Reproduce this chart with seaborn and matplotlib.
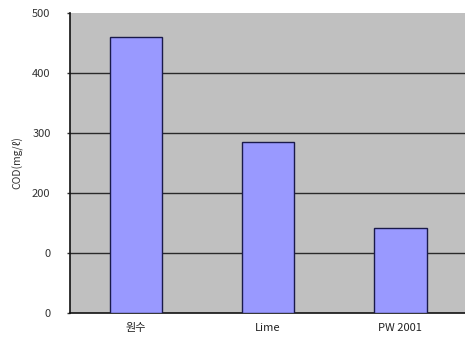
import matplotlib
matplotlib.use("Agg")
import matplotlib.pyplot as plt
import seaborn as sns
import pandas as pd

# COD by treatment
categories = ["원수", "Lime", "PW 2001"]
cod_values = [460, 285, 141]
y_ticks = [0, 100, 200, 300, 400, 500]
y_tick_labels = ["0", "0", "200", "300", "400", "500"]

df = pd.DataFrame({"treatment": categories, "cod": cod_values})

sns.set_theme(style="white")
plt.rcParams["font.family"] = ["Noto Sans CJK KR", "DejaVu Sans"]

fig = plt.figure(figsize=(4.65, 3.42), dpi=100)
ax = fig.add_axes([0.1505, 0.0848, 0.852, 0.877])
ax.set_facecolor("#C0C0C0")

sns.barplot(data=df, x="treatment", y="cod", ax=ax, color="#9999FF",
            saturation=1, width=0.4, edgecolor="#1a1a4a", linewidth=1.0,
            zorder=3)

ax.set_xlim(-0.5, 2.5)
ax.set_ylim(0, 500)
ax.set_yticks(y_ticks)
ax.set_yticklabels(y_tick_labels)
for y in y_ticks[1:-1]:
    ax.axhline(y, color="#2a2a2a", linewidth=1.0, zorder=1)

ax.set_xticks([0.5, 1.5], minor=True)
ax.tick_params(axis="x", which="minor", length=2, width=1, color="#333333",
               direction="in")
ax.tick_params(axis="x", which="major", length=0, pad=7, labelsize=8,
               labelcolor="#222222")
ax.tick_params(axis="y", length=2, width=1, color="#333333", direction="out",
               labelsize=8, labelcolor="#333333", pad=12, left=True)

ax.set_xlabel("")
ax.set_ylabel("COD(mg/ℓ)", fontsize=7.5, color="#333333", labelpad=6)

for side in ["top", "right"]:
    ax.spines[side].set_visible(False)
ax.spines["left"].set_color("#111111")
ax.spines["bottom"].set_color("#111111")
ax.spines["left"].set_linewidth(1.2)
ax.spines["bottom"].set_linewidth(1.2)

fig.savefig("out.png", dpi=100, facecolor="white")
